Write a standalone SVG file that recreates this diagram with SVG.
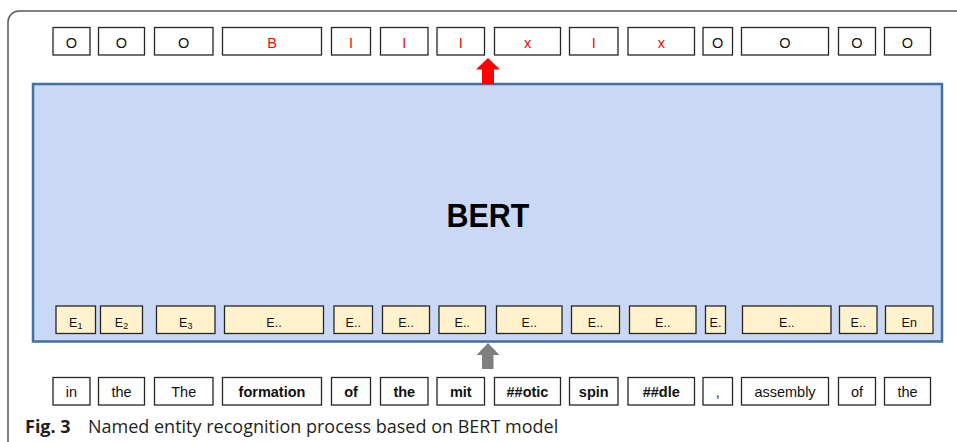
<svg xmlns="http://www.w3.org/2000/svg" width="957" height="442" viewBox="0 0 957 442">
<style>
.frame{fill:none;stroke:#5a5a5a;stroke-width:1.5}
.tag{fill:#fff;stroke:#262626;stroke-width:1.3}
.emb{fill:#FFF2CC;stroke:#262626;stroke-width:1.3}
.t{font-family:"Liberation Sans",Arial,sans-serif;font-size:14.5px;text-anchor:middle;fill:#111}
.e{font-family:"Liberation Sans",Arial,sans-serif;font-size:12.5px;text-anchor:middle;fill:#111}
.sub{font-size:9px}
.red{fill:#FF0000}
.b{font-weight:bold}
.bert{fill:#C9D9F5;stroke:#41719C;stroke-width:2.5}
.cap{font-family:"Open Sans","Noto Sans",sans-serif;font-size:18px;fill:#231F20}
</style>
<path class="frame" d="M957,11 H19 A11,11 0 0 0 8,22 V442"/>
<g id="bert"><rect class="bert" x="33" y="84" width="909" height="257.5"/>
<text x="488" y="227" font-family="Liberation Sans,Arial,sans-serif" font-weight="bold" font-size="34" text-anchor="middle" textLength="83" lengthAdjust="spacingAndGlyphs" fill="#000">BERT</text></g>
<g id="tags">
<g id="tag1"><rect class="tag" x="53" y="27.5" width="37" height="27.5"/><text class="t" x="71.5" y="47.5">O</text></g>
<g id="tag2"><rect class="tag" x="98.5" y="27.5" width="46" height="27.5"/><text class="t" x="121.5" y="47.5">O</text></g>
<g id="tag3"><rect class="tag" x="154.5" y="27.5" width="58.5" height="27.5"/><text class="t" x="183.75" y="47.5">O</text></g>
<g id="tag4"><rect class="tag" x="222.5" y="27.5" width="99" height="27.5"/><text class="t red" x="272" y="47.5">B</text></g>
<g id="tag5"><rect class="tag" x="331.5" y="27.5" width="39" height="27.5"/><text class="t red" x="351" y="47.5">I</text></g>
<g id="tag6"><rect class="tag" x="380.5" y="27.5" width="47.5" height="27.5"/><text class="t red" x="404.25" y="47.5">I</text></g>
<g id="tag7"><rect class="tag" x="437" y="27.5" width="47.5" height="27.5"/><text class="t red" x="460.75" y="47.5">I</text></g>
<g id="tag8"><rect class="tag" x="494.5" y="27.5" width="66" height="27.5"/><text class="t red" x="527.5" y="47.5">x</text></g>
<g id="tag9"><rect class="tag" x="569.5" y="27.5" width="48.5" height="27.5"/><text class="t red" x="593.75" y="47.5">I</text></g>
<g id="tag10"><rect class="tag" x="628" y="27.5" width="66.5" height="27.5"/><text class="t red" x="661.25" y="47.5">x</text></g>
<g id="tag11"><rect class="tag" x="703" y="27.5" width="29.5" height="27.5"/><text class="t" x="717.75" y="47.5">O</text></g>
<g id="tag12"><rect class="tag" x="741.5" y="27.5" width="87" height="27.5"/><text class="t" x="785" y="47.5">O</text></g>
<g id="tag13"><rect class="tag" x="838.5" y="27.5" width="37" height="27.5"/><text class="t" x="857" y="47.5">O</text></g>
<g id="tag14"><rect class="tag" x="884.5" y="27.5" width="46" height="27.5"/><text class="t" x="907.5" y="47.5">O</text></g>
</g>
<g id="embeddings">
<g id="e1"><rect class="emb" x="56" y="306" width="39.5" height="27.5"/><text class="e" x="75.75" y="327">E<tspan class="sub" dy="1.5">1</tspan></text></g>
<g id="e2"><rect class="emb" x="100.5" y="306" width="42" height="27.5"/><text class="e" x="121.5" y="327">E<tspan class="sub" dy="1.5">2</tspan></text></g>
<g id="e3"><rect class="emb" x="156.5" y="306" width="58.5" height="27.5"/><text class="e" x="185.75" y="327">E<tspan class="sub" dy="1.5">3</tspan></text></g>
<g id="e4"><rect class="emb" x="224.5" y="306" width="99" height="27.5"/><text class="e" x="274" y="327">E..</text></g>
<g id="e5"><rect class="emb" x="334" y="306" width="38.5" height="27.5"/><text class="e" x="353.25" y="327">E..</text></g>
<g id="e6"><rect class="emb" x="382.5" y="306" width="47" height="27.5"/><text class="e" x="406" y="327">E..</text></g>
<g id="e7"><rect class="emb" x="439" y="306" width="46.5" height="27.5"/><text class="e" x="462.25" y="327">E..</text></g>
<g id="e8"><rect class="emb" x="496.5" y="306" width="65.5" height="27.5"/><text class="e" x="529.25" y="327">E..</text></g>
<g id="e9"><rect class="emb" x="571.5" y="306" width="48" height="27.5"/><text class="e" x="595.5" y="327">E..</text></g>
<g id="e10"><rect class="emb" x="629.5" y="306" width="66.5" height="27.5"/><text class="e" x="662.75" y="327">E..</text></g>
<g id="e11"><rect class="emb" x="705.5" y="306" width="20" height="27.5"/><text class="e" x="715.5" y="327">E.</text></g>
<g id="e12"><rect class="emb" x="742.5" y="306" width="88.5" height="27.5"/><text class="e" x="786.75" y="327">E..</text></g>
<g id="e13"><rect class="emb" x="839.5" y="306" width="37.5" height="27.5"/><text class="e" x="858.25" y="327">E..</text></g>
<g id="e14"><rect class="emb" x="885.5" y="306" width="47.5" height="27.5"/><text class="e" x="909.25" y="327">En</text></g>
</g>
<g id="tokens">
<g id="w1"><rect class="tag" x="53" y="377.5" width="37" height="27.5"/><text class="t" x="71.5" y="397">in</text></g>
<g id="w2"><rect class="tag" x="98.5" y="377.5" width="46" height="27.5"/><text class="t" x="121.5" y="397">the</text></g>
<g id="w3"><rect class="tag" x="154.5" y="377.5" width="58.5" height="27.5"/><text class="t" x="183.75" y="397">The</text></g>
<g id="w4"><rect class="tag" x="222.5" y="377.5" width="99" height="27.5"/><text class="t b" x="272" y="397">formation</text></g>
<g id="w5"><rect class="tag" x="331.5" y="377.5" width="39" height="27.5"/><text class="t b" x="351" y="397">of</text></g>
<g id="w6"><rect class="tag" x="380.5" y="377.5" width="47.5" height="27.5"/><text class="t b" x="404.25" y="397">the</text></g>
<g id="w7"><rect class="tag" x="437" y="377.5" width="47.5" height="27.5"/><text class="t b" x="460.75" y="397">mit</text></g>
<g id="w8"><rect class="tag" x="494.5" y="377.5" width="66" height="27.5"/><text class="t b" x="527.5" y="397">##otic</text></g>
<g id="w9"><rect class="tag" x="569.5" y="377.5" width="48.5" height="27.5"/><text class="t b" x="593.75" y="397">spin</text></g>
<g id="w10"><rect class="tag" x="628" y="377.5" width="66.5" height="27.5"/><text class="t b" x="661.25" y="397">##dle</text></g>
<g id="w11"><rect class="tag" x="703" y="377.5" width="29.5" height="27.5"/><text class="t" x="717.75" y="397">,</text></g>
<g id="w12"><rect class="tag" x="741.5" y="377.5" width="87" height="27.5"/><text class="t" x="785" y="397">assembly</text></g>
<g id="w13"><rect class="tag" x="838.5" y="377.5" width="37" height="27.5"/><text class="t" x="857" y="397">of</text></g>
<g id="w14"><rect class="tag" x="884.5" y="377.5" width="46" height="27.5"/><text class="t" x="907.5" y="397">the</text></g>
</g>
<g id="connectors">
<polygon fill="#FF0000" points="488,58 500,69.5 494,69.5 494,84 482,84 482,69.5 476,69.5"/>
<polygon fill="#7F7F7F" points="488,343 499.5,355 493.5,355 493.5,369 482,369 482,355 476.5,355"/>
</g>
<text class="cap" x="25" y="432.5"><tspan font-weight="bold">Fig. 3</tspan><tspan x="88">Named entity recognition process based on BERT model</tspan></text>
</svg>
